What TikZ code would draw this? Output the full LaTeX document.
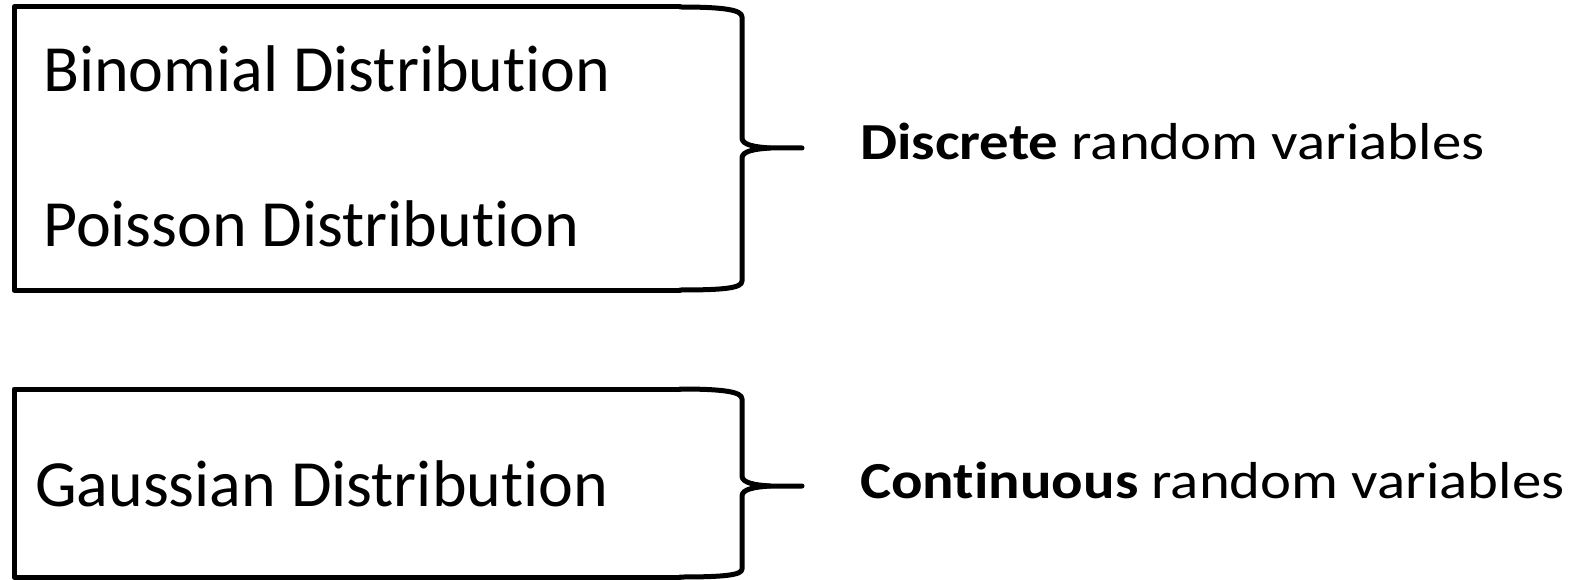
\documentclass[tikz,border=0pt]{standalone}
\usepackage{fontspec}
\setmainfont{Carlito}[Ligatures={NoCommon}]
\begin{document}
\begin{tikzpicture}[x=1pt,y=-1pt,
  frame/.style={line width=5pt,line join=round,line cap=round},
  bigtext/.style={anchor=base west,inner sep=0pt,font=\fontsize{66}{80}\selectfont},
  cattext/.style={anchor=base west,inner sep=0pt,font=\fontsize{52}{60}\selectfont}]
\useasboundingbox (0,0) rectangle (1570,580);
% box 1
\draw[frame] (680,7) -- (14,7) -- (14,290) -- (680,290);
\draw[frame] (680,7) .. controls (725,7) and (742,10) .. (742,17) -- (742,138)
  .. controls (742,145) and (755,147) .. (770,148) -- (802,148);
\draw[frame] (770,148) .. controls (755,149) and (742,151) .. (742,158) -- (742,281)
  .. controls (742,288) and (725,290) .. (680,290);
% box 2
\draw[frame] (680,389) -- (14,389) -- (14,577) -- (680,577);
\draw[frame] (680,389) .. controls (725,389) and (742,392) .. (742,399) -- (742,476)
  .. controls (742,483) and (755,485) .. (770,486) -- (802,486);
\draw[frame] (770,486) .. controls (755,487) and (742,489) .. (742,496) -- (742,569)
  .. controls (742,575) and (725,577) .. (680,577);
\node[bigtext] (binom) at (43,92) {Binomial Distribution};
\node[bigtext] (poiss) at (43,246) {Poisson Distribution};
\node[bigtext] (gauss) at (35,506) {Gaussian Distribution};
\node[cattext] (disc) at (860,160) {\scalebox{1.13}[1]{\textbf{Discrete} random variables}};
\node[cattext] (cont) at (860,498) {\scalebox{1.13}[1]{\textbf{Continuous} random variables}};
\end{tikzpicture}
\end{document}
